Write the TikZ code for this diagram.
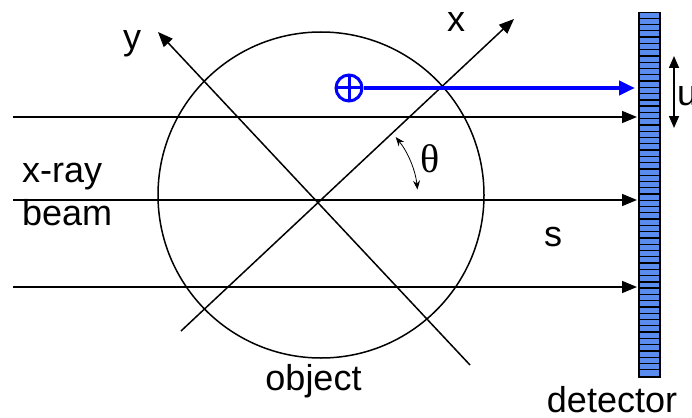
\documentclass[tikz,border=0pt]{standalone}
\usepackage{fontspec}
\setmainfont{Liberation Sans}
\newfontfamily\thetafont{Liberation Serif}
\usetikzlibrary{arrows.meta}
\definecolor{detblue}{RGB}{90,140,240}
\definecolor{rayblue}{RGB}{0,0,255}
\begin{document}
\begin{tikzpicture}[x=1pt,y=-1pt,
  thinline/.style={line width=1.5pt, black},
  beam/.style={thinline, -{Triangle[length=15pt,width=12pt]}},
  axis/.style={thinline, -{Triangle[length=15pt,width=12pt]}},
  lbl/.style={font=\fontsize{36}{40}\selectfont, inner sep=0pt},
]
\useasboundingbox (0,0) rectangle (692,417);
% object
\node[draw, circle, line width=1.5pt, minimum size=326pt, inner sep=0pt] (obj) at (321,195) {};
% beams
\coordinate (b1s) at (13,117); \coordinate (b1e) at (637,117);
\coordinate (b2s) at (13,200); \coordinate (b2e) at (637,200);
\coordinate (b3s) at (13,287); \coordinate (b3e) at (637,287);
\draw[beam] (b1s) -- (b1e);
\draw[beam] (b2s) -- (b2e);
\draw[beam] (b3s) -- (b3e);
% axes
\coordinate (xs) at (181,331); \coordinate (xe) at (514,19);
\coordinate (ys) at (470,365); \coordinate (ye) at (158,32);
\draw[axis] (xs) -- (xe);
\draw[axis] (ys) -- (ye);
\node[lbl, anchor=base] (xl) at (456,32) {x};
\node[lbl, anchor=base] (yl) at (132,50) {y};
% theta arc
\coordinate (org) at (318,200);
\draw[line width=0.8pt, {Stealth[length=9pt,width=7pt]}-{Stealth[length=9pt,width=7pt]}]
  ([shift={(-39:100)}]org) arc[start angle=-39, end angle=-6, radius=100];
\node[inner sep=0pt, font=\thetafont\fontsize{40}{44}\selectfont] (th) at (430,159) {θ};
% detector
\node[draw, line width=1.5pt, fill=detblue, minimum width=21pt, minimum height=364pt, inner sep=0pt, anchor=north west] (det) at (638,12) {};
\foreach \i in {1,...,57}{
  \draw[line width=1.3pt] ([yshift=-\i*6.2759pt]det.north west) -- ([yshift=-\i*6.2759pt]det.north east);
}
% blue ray
\node[draw=rayblue, line width=3pt, circle, minimum size=26pt, inner sep=0pt,
  path picture={\draw[rayblue, line width=3pt] (path picture bounding box.north) -- (path picture bounding box.south)
  (path picture bounding box.west) -- (path picture bounding box.east);}] (src) at (349,88) {};
\coordinate (rayend) at (635,88);
\draw[rayblue, line width=4pt, -{Triangle[length=16pt,width=14pt]}] (src.east) -- (rayend);
% u arrow
\coordinate (ut) at (674,56); \coordinate (ub) at (674,128);
\draw[line width=1.5pt, {Triangle[length=12pt,width=10pt]}-{Triangle[length=12pt,width=10pt]}] (ut) -- (ub);
\node[lbl, anchor=base west] (ul) at (677,106) {u};
% labels
\node[lbl, anchor=base west] (s) at (544,246) {s};
\node[lbl, anchor=base west] (xray) at (22,182) {x-ray};
\node[lbl, anchor=base west] (bm) at (22,225) {beam};
\node[lbl, anchor=base] (ob) at (313.5,390) {object};
\node[lbl, anchor=base] (dt) at (612,412) {detector};
\end{tikzpicture}
\end{document}
